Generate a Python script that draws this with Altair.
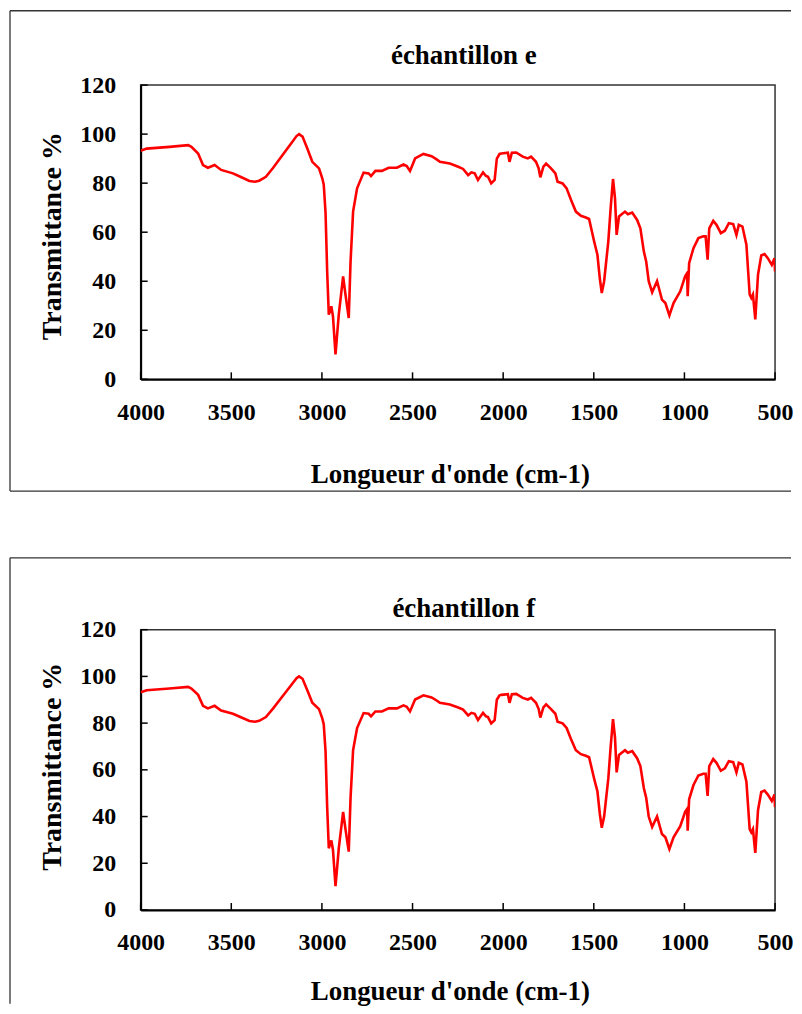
import altair as alt
import pandas as pd

# wavenumber (cm-1) and transmittance (%)
WN = [4000, 3967, 3841, 3738, 3720, 3683, 3656, 3629, 3592, 3556, 3491, 3450, 3400, 3370,
      3346, 3309, 3270, 3217, 3170, 3140, 3126, 3107, 3080, 3053, 3016, 2998, 2990, 2980,
      2971, 2962, 2948, 2939, 2925, 2907,
      2883, 2870, 2852, 2842, 2828, 2806, 2770, 2742, 2729, 2705, 2669, 2632, 2586, 2550,
      2532, 2514, 2486, 2440, 2395, 2367, 2349, 2294, 2248, 2221, 2193, 2175, 2157, 2139,
      2111, 2096, 2084, 2066, 2047, 2035, 2020, 2010, 1974, 1965, 1952, 1928, 1892, 1864,
      1846, 1819, 1804, 1795, 1778, 1763, 1736, 1712, 1700, 1672, 1650, 1626, 1599, 1571,
      1544, 1526, 1498, 1480, 1467, 1456, 1443, 1420, 1407, 1394, 1383, 1374, 1361, 1328,
      1312, 1288, 1261, 1243, 1224, 1211, 1197, 1178, 1151, 1124, 1105, 1083, 1060, 1023,
      996, 985, 982, 974, 950, 923, 896, 883, 872, 863, 841, 823, 799, 777, 755, 731, 713,
      700, 680, 658, 640, 631, 622, 609, 594, 576, 558, 540, 518, 503, 500]

T_E = [93.2, 94.1, 94.8, 95.5, 94.8, 92.1, 87.4, 86.3, 87.4, 85.4, 84.0, 82.6, 80.9, 80.6,
       81.0, 82.6, 86.2, 91.5, 96.2, 99.2, 100.0, 99.0, 94.0, 88.7, 86.0, 82.0, 79.5, 68.0,
       44.0, 26.4, 29.8, 25.7, 10.2, 26.4,
       42.0, 34.6, 25.0, 48.0, 68.4, 77.9, 84.3, 84.0, 82.9, 85.0, 85.0, 86.3, 86.3, 87.6,
       87.0, 85.0, 90.1, 91.9, 91.0, 89.7, 88.7, 88.0, 86.7, 85.8, 83.3, 84.4, 84.0, 81.3,
       84.4, 83.0, 82.6, 79.9, 81.3, 90.0, 91.9, 92.1, 92.4, 88.7, 92.4, 92.5, 90.8, 90.1,
       90.8, 88.7, 86.0, 82.4, 86.7, 88.0, 86.0, 84.0, 80.6, 79.9, 77.9, 73.2, 68.4, 66.7,
       66.0, 65.4, 56.2, 50.8, 41.3, 35.2, 40.0, 56.2, 69.8, 81.7, 73.8, 58.9, 66.4, 68.4,
       67.3, 68.0, 65.0, 61.6, 52.2, 48.1, 40.0, 35.5, 40.0, 32.5, 31.1, 26.1, 31.1, 35.9,
       42.0, 43.3, 33.9, 47.4, 53.5, 57.6, 58.3, 58.3, 48.8, 61.6, 64.6, 63.0, 59.6, 60.6,
       63.7, 63.3, 58.9, 63.0, 62.3, 54.9, 34.6, 33.2, 34.6, 24.4, 42.7, 50.5, 51.1, 49.4,
       46.7, 49.4, 44.0]

# sample f shows the same spectrum as sample e in the reference
T_F = list(T_E)

X_TICKS = [4000, 3500, 3000, 2500, 2000, 1500, 1000, 500]
Y_TICKS = [0, 20, 40, 60, 80, 100, 120]
TITLES = ["échantillon e", "échantillon f"]
X_TITLE = "Longueur d'onde (cm-1)"
Y_TITLE = "Transmittance %"

FONT = "Liberation Serif"
W = 636
FRAME_COLOR = "#333333"
FRAME_LEFT = -131
FRAME_RIGHT = 652


def panel(T, title, H, frame_top, frame_bottom, title_y, xtitle_y, ytitle_y, with_bottom):
    df = pd.DataFrame({"wn": WN, "T": T})
    xs = alt.Scale(domain=[500, 4000], reverse=True, nice=False, zero=False)
    ys = alt.Scale(domain=[0, 120], nice=False, zero=True)
    xaxis = alt.Axis(values=X_TICKS, format="d", ticks=False, tickSize=0, grid=False,
                     labelFont=FONT, labelFontSize=24, labelFontWeight="bold",
                     labelColor="black", labelPadding=21, labelFlush=False,
                     labelOverlap=False, domainColor="black", domainWidth=2,
                     title=X_TITLE, titleFont=FONT, titleFontSize=27,
                     titleFontWeight="bold", titleColor="black", titleX=310,
                     titleY=xtitle_y, titleBaseline="middle", titleAlign="center")
    yaxis = alt.Axis(values=Y_TICKS, ticks=False, tickSize=0, grid=False,
                     labelFont=FONT, labelFontSize=24, labelFontWeight="bold",
                     labelColor="black", labelPadding=25, labelOverlap=False,
                     domainColor="black", domainWidth=2,
                     title=Y_TITLE, titleFont=FONT, titleFontSize=28,
                     titleFontWeight="bold", titleColor="black", titleX=-88,
                     titleY=ytitle_y, titleAngle=270, titleBaseline="middle",
                     titleAlign="center")

    line = alt.Chart(df).mark_line(color="#FF0000", strokeWidth=2.6, clip=True).encode(
        x=alt.X("wn:Q", scale=xs, axis=xaxis),
        y=alt.Y("T:Q", scale=ys, axis=yaxis),
    )
    xt = alt.Chart(pd.DataFrame({"wn": X_TICKS})).mark_rule(color="black", strokeWidth=1.5).encode(
        x=alt.X("wn:Q", scale=xs, axis=xaxis), y=alt.value(H), y2=alt.value(H - 7))
    yt = alt.Chart(pd.DataFrame({"T": Y_TICKS})).mark_rule(color="black", strokeWidth=1.5).encode(
        y=alt.Y("T:Q", scale=ys, axis=yaxis), x=alt.value(0), x2=alt.value(7))

    one = alt.Chart(pd.DataFrame({"k": [0]}))
    fr_top = one.mark_rule(color=FRAME_COLOR, strokeWidth=1.3).encode(
        x=alt.value(FRAME_LEFT), x2=alt.value(FRAME_RIGHT), y=alt.value(frame_top))
    fr_left = one.mark_rule(color=FRAME_COLOR, strokeWidth=1.3).encode(
        x=alt.value(FRAME_LEFT), y=alt.value(frame_top), y2=alt.value(frame_bottom))
    ttl = one.mark_text(font=FONT, fontSize=27, fontWeight="bold", color="black",
                        baseline="middle", align="center").encode(
        x=alt.value(324), y=alt.value(title_y), text=alt.value(title))
    layers = [line, xt, yt, fr_top, fr_left]
    if with_bottom:
        fr_bot = one.mark_rule(color=FRAME_COLOR, strokeWidth=1.3).encode(
            x=alt.value(FRAME_LEFT), x2=alt.value(FRAME_RIGHT), y=alt.value(frame_bottom))
        layers.append(fr_bot)
    layers.append(ttl)
    return alt.layer(*layers).properties(width=W, height=H)


top = panel(T_E, TITLES[0], 295, -74.5, 407, -29, 95, 151, True)
bottom = panel(T_F, TITLES[1], 281, -72, 375, -21, 82, 137, False)

chart = alt.vconcat(top, bottom, spacing=251, bounds="flush").properties(
    padding=0, background="white"
).configure_view(stroke="#333333", strokeWidth=1.5)

chart.save("out.html", embed_options={"renderer": "svg", "actions": False})
